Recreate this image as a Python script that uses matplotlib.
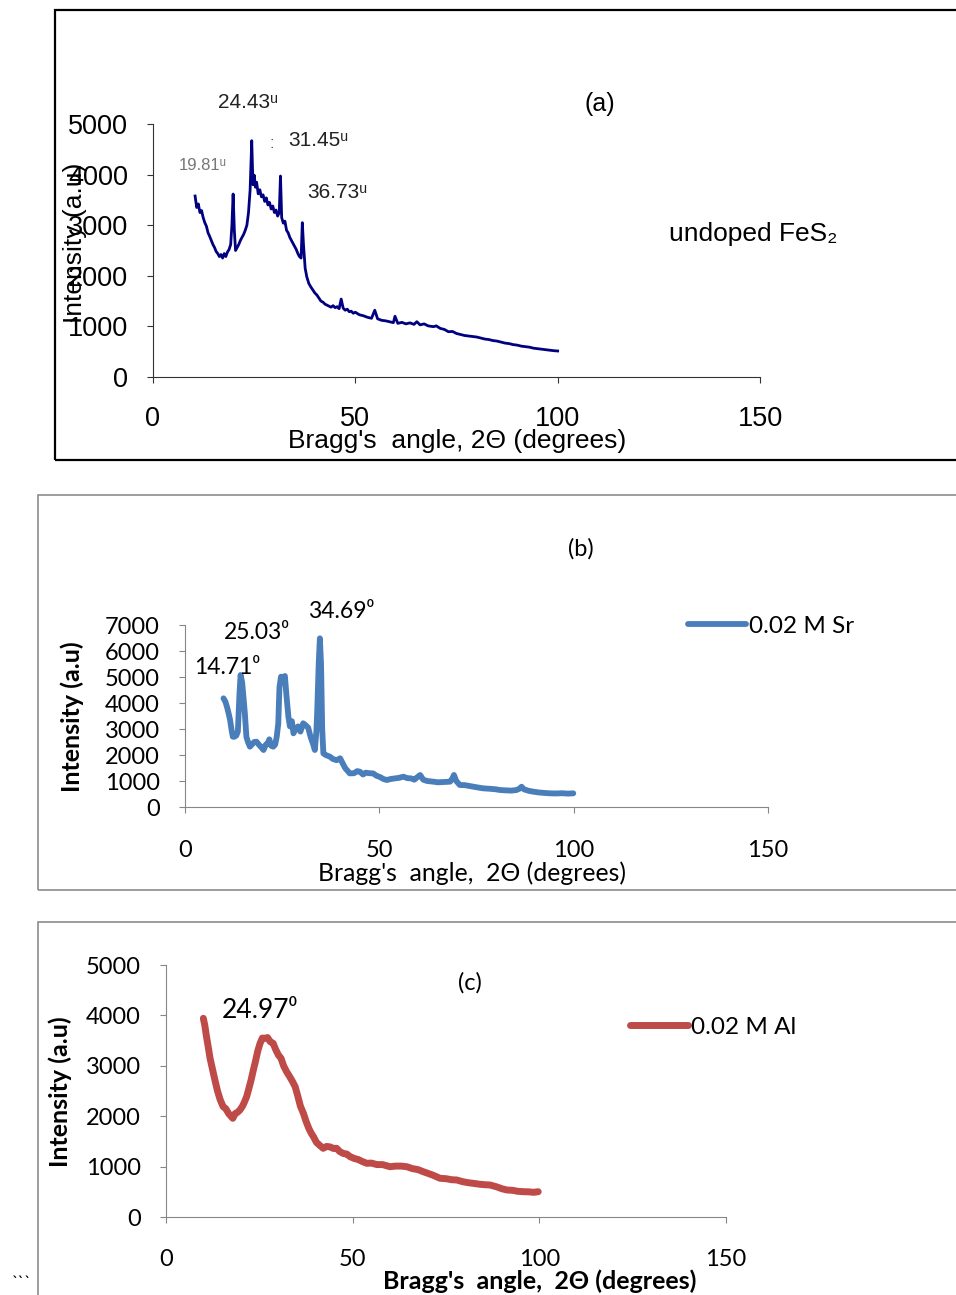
import matplotlib
matplotlib.use("Agg")
import matplotlib.pyplot as plt
from matplotlib.patches import Rectangle

W, H = 956, 1295

# undoped FeS2
x_a = [10.4, 10.8, 11.2, 11.6, 12.0, 12.4, 12.8, 13.2, 13.6, 14.0, 14.4, 14.8, 15.2, 15.6,
       16.0, 16.4, 16.8, 17.2, 17.6, 18.0, 18.4, 18.8, 19.2, 19.5, 19.8, 20.1, 20.4, 20.8,
       21.2, 21.6, 22.0, 22.4, 22.8, 23.2, 23.6, 24.0, 24.4, 24.7, 25.0, 25.3, 25.6, 26.0,
       26.4, 26.8, 27.2, 27.6, 28.0, 28.4, 28.8, 29.2, 29.6, 30.0, 30.4, 30.8, 31.2, 31.5,
       31.8, 32.2, 32.6, 33.0, 33.4, 33.8, 34.2, 34.6, 35.0, 35.4, 35.8, 36.2, 36.6, 36.9,
       37.2, 37.6, 38.0, 38.5, 39.0, 39.5, 40.0, 40.5, 41.0, 41.5, 42.0, 42.5, 43.0, 43.5,
       44.0, 44.5, 45.0, 45.5, 46.0, 46.5, 47.0, 47.5, 48.0, 48.5, 49.0, 49.5, 50.0, 51.0,
       52.0, 53.0, 54.0, 54.8, 55.5, 56.5, 57.5, 58.5, 59.4, 59.8, 60.5, 61.5, 62.5, 63.5,
       64.5, 65.2, 66.0, 67.0, 68.0, 69.3, 70.0, 71.0, 72.0, 73.0, 74.0, 75.0, 76.0, 77.0,
       78.0, 79.0, 80.0, 81.0, 82.0, 83.0, 84.0, 85.0, 86.0, 87.0, 88.0, 89.0, 90.0, 91.0,
       92.0, 93.0, 94.0, 95.0, 96.0, 97.0, 98.0, 99.0, 100.0]
y_a = [3577, 3350, 3420, 3250, 3290, 3150, 3050, 2980, 2850, 2780, 2700, 2620, 2560, 2480,
       2440, 2380, 2420, 2350, 2440, 2380, 2470, 2520, 2620, 3000, 3616, 2900, 2500, 2560,
       2620, 2700, 2760, 2820, 2900, 3000, 3250, 3700, 4670, 3800, 3990, 3750, 3850, 3620,
       3700, 3560, 3600, 3470, 3540, 3400, 3450, 3320, 3380, 3250, 3300, 3180, 3250, 3972,
       3150, 3040, 3080, 2900, 2850, 2760, 2700, 2640, 2580, 2520, 2440, 2380, 2350, 3050,
       2600, 2150, 1980, 1850, 1780, 1720, 1660, 1620, 1560, 1500, 1480, 1440, 1420, 1400,
       1380, 1410, 1370, 1390, 1350, 1540, 1360, 1320, 1340, 1290, 1300, 1260, 1280, 1230,
       1210, 1180, 1160, 1320, 1150, 1120, 1110, 1090, 1074, 1200, 1060, 1080, 1050, 1070,
       1040, 1093, 1030, 1050, 1010, 995, 1010, 960, 940, 895, 900, 860, 840, 820,
       810, 800, 790, 770, 750, 740, 720, 710, 690, 670, 660, 640, 630, 610,
       600, 590, 570, 560, 550, 540, 530, 520, 514]

# 0.02 M Sr
x_b = [9.9, 10.4, 10.9, 11.3, 11.6, 12.0, 12.3, 12.7, 13.2, 13.6, 14.0, 14.3, 14.7, 15.0,
       15.4, 15.8, 16.2, 16.7, 17.2, 17.8, 18.4, 19.0, 19.6, 20.2, 20.8, 21.3, 21.7, 22.2,
       22.7, 23.2, 23.6, 24.0, 24.3, 24.7, 25.2, 25.7, 26.1, 26.6, 27.0, 27.5, 27.9, 28.5,
       29.1, 29.7, 30.4, 31.0, 31.7, 32.3, 33.0, 33.4, 33.8, 34.0, 34.4, 34.7, 35.0, 35.3,
       35.6, 36.2, 37.3, 38.0, 39.0, 39.9, 40.5, 41.2, 42.4, 43.5, 44.3, 45.0, 45.8, 46.5,
       47.4, 48.4, 49.3, 50.2, 51.0, 51.9, 53.0, 54.0, 55.0, 56.2, 57.2, 58.2, 59.0, 59.8,
       60.5, 61.3, 62.3, 63.9, 65.0, 66.5, 68.2, 68.8, 69.2, 69.8, 70.7, 72.0, 73.5, 75.0,
       76.7, 78.5, 80.0, 81.0, 82.5, 84.0, 85.3, 86.0, 86.6, 87.2, 88.5, 89.6, 91.0, 92.5,
       93.9, 95.5, 97.0, 98.5, 99.9]
y_b = [4180, 4050, 3800, 3550, 3346, 2950, 2704, 2700, 2750, 2900, 4300, 5077, 4800, 4300,
       3603, 2700, 2500, 2320, 2400, 2500, 2512, 2400, 2300, 2192, 2400, 2450, 2603, 2350,
       2320, 2400, 2700, 3212, 4600, 5012, 4900, 5038, 4300, 3473, 3100, 3300, 2834, 3000,
       3100, 2900, 3219, 3150, 3050, 2700, 2400, 2192, 2900, 3603, 5500, 6488, 5500, 3000,
       2064, 2000, 1935, 1850, 1800, 1873, 1700, 1500, 1292, 1300, 1380, 1358, 1250, 1320,
       1300, 1292, 1200, 1150, 1080, 1038, 1080, 1100, 1120, 1165, 1110, 1100, 1050, 1150,
       1231, 1050, 1000, 974, 950, 960, 974, 1100, 1231, 1000, 846, 840, 800, 760,
       718, 700, 680, 654, 640, 630, 654, 700, 780, 680, 620, 590, 560, 540,
       526, 520, 530, 515, 526]

# 0.02 M Al
x_c = [10.0, 10.4, 10.8, 11.3, 11.8, 12.4, 13.1, 13.8, 14.5, 15.3, 16.0, 16.8, 17.4, 17.9,
       18.5, 19.2, 19.8, 20.5, 21.0, 21.6, 22.2, 22.8, 23.4, 24.0, 24.6, 25.2, 25.8, 26.5,
       27.2, 27.9, 28.7, 29.4, 30.1, 30.8, 31.5, 32.3, 33.0, 33.8, 34.6, 35.3, 36.0, 36.8,
       37.5, 38.3, 39.0, 39.5, 40.3, 41.2, 42.1, 43.0, 44.0, 44.8, 45.7, 46.5, 47.5, 48.4,
       49.3, 50.5, 51.5, 52.6, 53.8, 55.0, 56.5, 58.0, 60.0, 61.5, 63.0, 64.5, 66.0, 67.5,
       68.9, 70.0, 71.5, 73.4, 75.0, 76.5, 77.9, 79.5, 81.0, 82.3, 84.0, 85.5, 86.8, 88.5,
       90.0, 91.3, 92.8, 94.2, 95.7, 97.0, 98.5, 99.7]
y_c = [3942, 3800, 3600, 3379, 3150, 2950, 2718, 2500, 2330, 2189, 2150, 2050, 2000, 1958,
       2050, 2080, 2123, 2200, 2280, 2387, 2550, 2720, 2917, 3100, 3300, 3446, 3550, 3546,
       3560, 3480, 3446, 3320, 3214, 3150, 3000, 2883, 2800, 2700, 2585, 2400, 2200, 2058,
       1900, 1750, 1650, 1593, 1480, 1420, 1363, 1400, 1390, 1360, 1363, 1300, 1260, 1250,
       1197, 1160, 1140, 1100, 1065, 1070, 1040, 1040, 998, 1010, 1010, 998, 960, 940,
       899, 870, 830, 768, 760, 740, 734, 700, 680, 668, 650, 640, 635, 600,
       560, 536, 530, 510, 502, 500, 490, 502]

x_ticks = [0, 50, 100, 150]

ARIAL = ["Liberation Sans", "DejaVu Sans"]
CAL = ["Lato", "DejaVu Sans"]

fig = plt.figure(figsize=(W / 100, H / 100), dpi=100)


def px(x, y):
    return x / W, 1 - y / H


def txt(x, y, s, **kw):
    fx, fy = px(x, y)
    return fig.text(fx, fy, s, **kw)


def make_axes(l, r, b, t):
    ax = fig.add_axes([l / W, 1 - b / H, (r - l) / W, (b - t) / H])
    for s in ("top", "right"):
        ax.spines[s].set_visible(False)
    return ax


# panel frames
fig.add_artist(Rectangle(px(55, 460), (W + 20 - 55) / W, 450 / H, transform=fig.transFigure,
                         fill=False, ec="black", lw=1.6))
fig.add_artist(Rectangle(px(38, 890), (W + 20 - 38) / W, 395 / H, transform=fig.transFigure,
                         fill=False, ec="#8c8c8c", lw=1.2))
fig.add_artist(Rectangle(px(38, 1320), (W + 20 - 38) / W, 398 / H, transform=fig.transFigure,
                         fill=False, ec="#8c8c8c", lw=1.2))

# (a)
ax = make_axes(153, 760, 377, 124)
ax.plot(x_a, y_a, color="#000080", lw=2.0)
ax.set_xlim(0, 150)
ax.set_ylim(0, 5000)
ax.set_xticks(x_ticks)
ax.set_yticks(range(0, 5001, 1000))
for s in ("left", "bottom"):
    ax.spines[s].set_color("#333333")
ax.tick_params(direction="out", length=4, color="#333333")
ax.tick_params(axis="x", pad=17)
ax.tick_params(axis="y", pad=14)
for lab in ax.get_xticklabels() + ax.get_yticklabels():
    lab.set_family(ARIAL)
    lab.set_fontsize(19.5)

txt(75, 243, "Intensity (a.u)", family=ARIAL, fontsize=19, rotation=90, ha="center", va="center")
txt(457, 441, "Bragg's  angle, 2\u0398 (degrees)", family=ARIAL, fontsize=19, ha="center", va="center")
txt(600, 104, "(a)", family=ARIAL, fontsize=18, ha="center", va="center")
txt(669, 234, "undoped FeS\u2082", family=ARIAL, fontsize=19, ha="left", va="center")
txt(248, 103, "24.43\u1d58", family=ARIAL, fontsize=15, ha="center", va="center", color="#222222")
txt(272, 143, ":", family=ARIAL, fontsize=12, ha="center", va="center", color="#555555")
txt(288, 141, "31.45\u1d58", family=ARIAL, fontsize=15, ha="left", va="center", color="#222222")
txt(307, 193, "36.73\u1d58", family=ARIAL, fontsize=15, ha="left", va="center", color="#222222")
txt(179, 166, "19.81\u1d58", family=ARIAL, fontsize=12, ha="left", va="center", color="#777777")

# (b)
ax = make_axes(185, 768, 807, 625)
ax.plot(x_b, y_b, color="#4a7ebb", lw=4.2, solid_capstyle="round", solid_joinstyle="round",
        label="0.02 M Sr")
ax.set_xlim(0, 150)
ax.set_ylim(0, 7000)
ax.set_xticks(x_ticks)
ax.set_yticks(range(0, 7001, 1000))
for s in ("left", "bottom"):
    ax.spines[s].set_color("#868686")
ax.tick_params(direction="out", length=4, color="#868686")
ax.tick_params(axis="x", pad=20)
ax.tick_params(axis="y", pad=14)
for lab in ax.get_xticklabels() + ax.get_yticklabels():
    lab.set_family(CAL)
    lab.set_fontsize(17)
ax.legend(loc="center left", bbox_to_anchor=px(688, 626), bbox_transform=fig.transFigure,
          frameon=False, borderpad=0, borderaxespad=0, handlelength=2.4, handletextpad=0.1,
          prop={"family": CAL, "size": 17.5})

txt(72, 717, "Intensity (a.u)", family=CAL, fontsize=18, fontweight="bold", rotation=90,
    ha="center", va="center")
txt(472, 873, "Bragg's  angle,  2\u0398 (degrees)", family=CAL, fontsize=17.8, ha="center", va="center")
txt(581, 549, "(b)", family=CAL, fontsize=17, ha="center", va="center")
txt(308, 611, "34.69\u2070", family=CAL, fontsize=16.5, ha="left", va="center")
txt(224, 633, "25.03\u2070", family=CAL, fontsize=16.5, ha="left", va="center")
txt(194, 668, "14.71\u2070", family=CAL, fontsize=16.5, ha="left", va="center")

# (c)
ax = make_axes(166, 726, 1217, 965)
ax.plot(x_c, y_c, color="#be4b48", lw=5.0, solid_capstyle="round", solid_joinstyle="round",
        label="0.02 M Al")
ax.set_xlim(0, 150)
ax.set_ylim(0, 5000)
ax.set_xticks(x_ticks)
ax.set_yticks(range(0, 5001, 1000))
for s in ("left", "bottom"):
    ax.spines[s].set_color("#868686")
ax.tick_params(direction="out", length=4, color="#868686")
ax.tick_params(axis="x", pad=19)
ax.tick_params(axis="y", pad=14)
for lab in ax.get_xticklabels() + ax.get_yticklabels():
    lab.set_family(CAL)
    lab.set_fontsize(17)
ax.legend(loc="center left", bbox_to_anchor=px(630, 1027), bbox_transform=fig.transFigure,
          frameon=False, borderpad=0, borderaxespad=0, handlelength=2.4, handletextpad=0.1,
          prop={"family": CAL, "size": 17.5})

txt(60, 1092, "Intensity (a.u)", family=CAL, fontsize=18, fontweight="bold", rotation=90,
    ha="center", va="center")
txt(540, 1281, "Bragg's  angle,  2\u0398 (degrees)", family=CAL, fontsize=18, fontweight="bold",
    ha="center", va="center")
txt(470, 983, "(c)", family=CAL, fontsize=17, ha="center", va="center")
txt(222, 1011, "24.97\u2070", family=CAL, fontsize=19, ha="left", va="center")
txt(12, 1283, "```", family=CAL, fontsize=12, ha="left", va="center")

fig.savefig("out.png", dpi=100)
